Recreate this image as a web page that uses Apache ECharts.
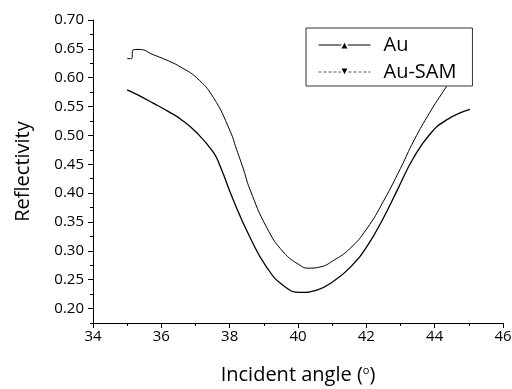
<!DOCTYPE html>
<html>
<head>
<meta charset="utf-8">
<script src="https://cdn.jsdelivr.net/npm/echarts@6/dist/echarts.min.js"></script>
<style>
  html, body { margin: 0; padding: 0; background: #fff; }
  #chart { width: 512px; height: 389px; }
</style>
</head>
<body>
<div id="chart"></div>
<script>
// upper curve (Au-SAM): angle in degrees, reflectivity
const samAngle = [35.00, 35.13, 35.17, 35.35, 35.76, 36.25, 36.55, 37.03, 37.52, 38.01, 38.20, 38.40, 38.59, 39.08, 39.57, 40.06, 40.30, 40.64, 41.03, 41.52, 42.01, 42.50, 43.00, 43.40, 43.86, 44.25, 44.60, 45.00];
const samValue = [0.633, 0.633, 0.648, 0.649, 0.640, 0.628, 0.619, 0.600, 0.566, 0.508, 0.476, 0.442, 0.407, 0.341, 0.298, 0.275, 0.270, 0.272, 0.283, 0.304, 0.338, 0.386, 0.443, 0.492, 0.540, 0.576, 0.606, 0.633];

// lower curve (Au)
const auAngle = [35.00, 35.28, 35.76, 36.25, 36.55, 37.03, 37.52, 37.72, 38.10, 38.59, 39.08, 39.57, 40.06, 40.55, 41.03, 41.52, 42.01, 42.50, 42.92, 43.37, 43.86, 44.35, 45.03];
const auValue = [0.579, 0.571, 0.556, 0.540, 0.529, 0.505, 0.471, 0.447, 0.389, 0.324, 0.272, 0.240, 0.228, 0.232, 0.247, 0.271, 0.307, 0.357, 0.407, 0.460, 0.502, 0.527, 0.545];

const yMajor = [0.20, 0.25, 0.30, 0.35, 0.40, 0.45, 0.50, 0.55, 0.60, 0.65, 0.70];
const yMinor = [0.175, 0.225, 0.275, 0.325, 0.375, 0.425, 0.475, 0.525, 0.575, 0.625, 0.675];

const font = 'Open Sans';
const chart = echarts.init(document.getElementById('chart'));

const option = {
    backgroundColor: '#fff',
    animation: false,
    textStyle: { fontFamily: font, color: '#000' },
    grid: {
        left: 93,
        right: 9,
        top: 20,
        bottom: 66,
        containLabel: false,
        outerBoundsMode: 'none'
    },
    legend: {
        orient: 'vertical',
        left: 306,
        top: 28,
        padding: [7, 16, 4, 12],
        itemWidth: 52,
        itemHeight: 11,
        itemGap: 7,
        backgroundColor: '#fff',
        borderColor: '#333',
        borderWidth: 1,
        borderRadius: 0,
        itemStyle: { borderColor: '#fff', borderWidth: 2 },
        textStyle: {
            fontFamily: font,
            fontSize: 20,
            color: '#000',
            padding: [0, 0, 0, 8]
        },
        data: [
            { name: 'Au', lineStyle: { type: 'solid', width: 1 } },
            { name: 'Au-SAM', lineStyle: { type: [3, 2], width: 1, color: '#555' } }
        ]
    },
    xAxis: {
        type: 'value',
        min: 34,
        max: 46,
        interval: 2,
        name: '{a|Incident angle (}{s|o}{a|)}',
        nameLocation: 'middle',
        nameGap: 42,
        nameTextStyle: {
            rich: {
                a: { fontFamily: font, fontSize: 20, color: '#000' },
                s: { fontFamily: font, fontSize: 11, color: '#000', padding: [0, 0, 10, 0] }
            }
        },
        axisLine: { lineStyle: { color: '#000', width: 1 } },
        axisTick: { inside: false, length: 5, lineStyle: { color: '#000' } },
        minorTick: { show: true, splitNumber: 2, length: 3, lineStyle: { color: '#000' } },
        axisLabel: { fontFamily: font, fontSize: 15, color: '#000', margin: 6 },
        splitLine: { show: false }
    },
    yAxis: [
        {
            type: 'value',
            min: 0.175,
            max: 0.70,
            name: 'Reflectivity',
            nameLocation: 'middle',
            nameGap: 60,
            nameTextStyle: { fontFamily: font, fontSize: 20, color: '#000' },
            axisLine: { show: true, lineStyle: { color: '#000', width: 1 } },
            axisTick: { show: true, length: 5, customValues: yMajor, lineStyle: { color: '#000' } },
            axisLabel: {
                fontFamily: font,
                fontSize: 15,
                color: '#000',
                margin: 9,
                customValues: yMajor,
                formatter: v => v.toFixed(2)
            },
            splitLine: { show: false }
        },
        {
            type: 'value',
            min: 0.175,
            max: 0.70,
            position: 'left',
            axisLine: { show: false },
            axisTick: { show: true, length: 3, customValues: yMinor, lineStyle: { color: '#000' } },
            axisLabel: { show: false },
            splitLine: { show: false }
        }
    ],
    series: [
        {
            name: 'Au',
            type: 'line',
            yAxisIndex: 0,
            data: auAngle.map((a, i) => [a, auValue[i]]),
            showSymbol: false,
            symbol: 'triangle',
            symbolSize: 7,
            smooth: 0.5,
            lineStyle: { color: '#000', width: 1.3 },
            itemStyle: { color: '#000' }
        },
        {
            name: 'Au-SAM',
            type: 'line',
            yAxisIndex: 0,
            data: samAngle.map((a, i) => [a, samValue[i]]),
            showSymbol: false,
            symbol: 'triangle',
            symbolRotate: 180,
            symbolSize: 7,
            smooth: 0.5,
            lineStyle: { color: '#000', width: 1 },
            itemStyle: { color: '#000' }
        }
    ]
};

chart.setOption(option);
</script>
</body>
</html>
